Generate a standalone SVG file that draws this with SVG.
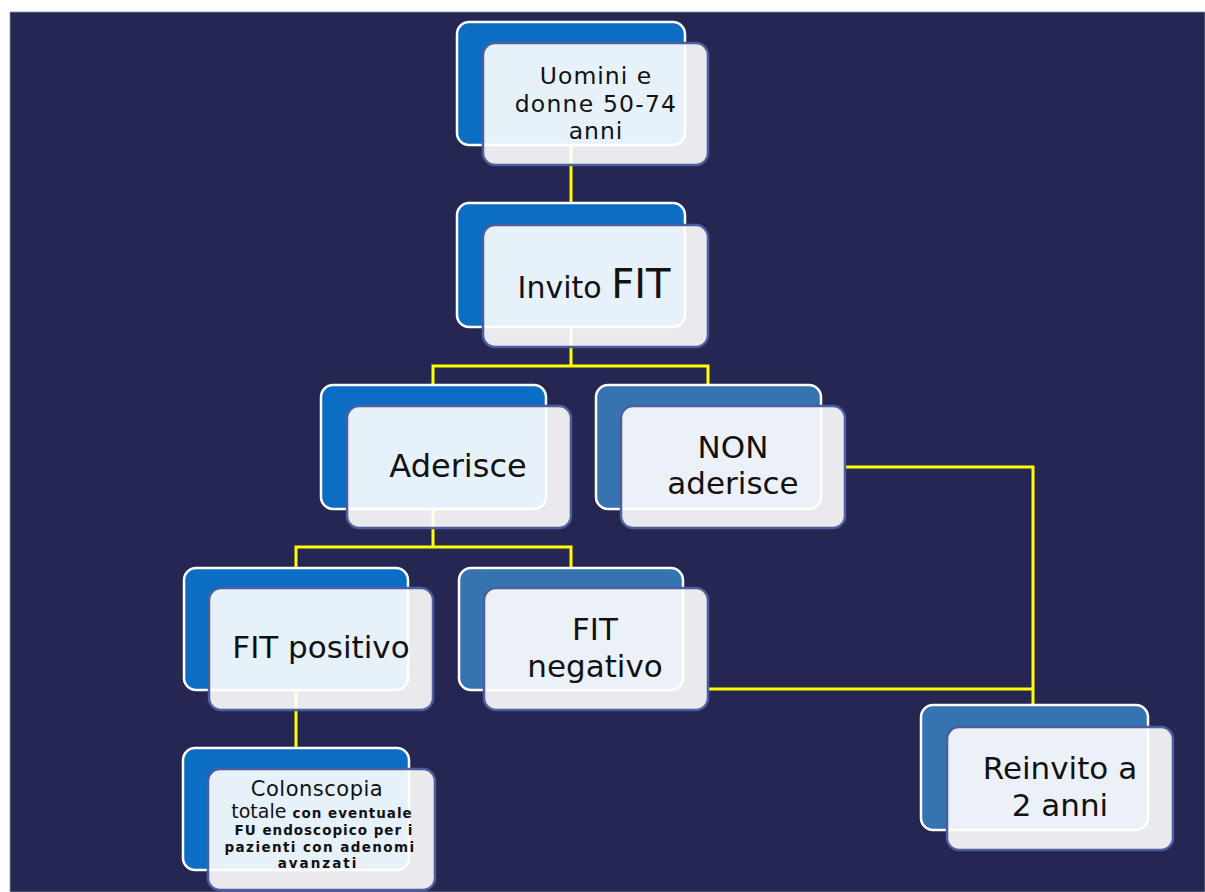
<svg xmlns="http://www.w3.org/2000/svg" width="1205" height="892" viewBox="0 0 1205 892">
<style>
.back1{fill:#0b6dc3;stroke:#ffffff;stroke-width:2.5}
.back2{fill:#3573b1;stroke:#ffffff;stroke-width:2.5}
.front{fill:#ffffff;fill-opacity:0.9;stroke:#4d5e9e;stroke-width:2.5}
.conn{fill:none;stroke:#ffff00;stroke-width:3}
text{font-family:"DejaVu Sans","Liberation Sans",sans-serif;fill:#111111;text-anchor:middle}
.sm{font-family:"DejaVu Sans","Liberation Sans",sans-serif;font-weight:bold;font-size:13.5px}
</style>
<rect x="0" y="0" width="1205" height="892" fill="#ffffff"/>
<rect x="10" y="12" width="1195" height="880" fill="#252752" stroke="#8a94a8" stroke-width="0.8"/>
<g id="connectors">
<path class="conn" d="M571,145 V203"/>
<path class="conn" d="M571,327 V366 M433,385 V366 H708 V385"/>
<path class="conn" d="M433,508 V547 M296,568 V547 H571 V568"/>
<path class="conn" d="M296,690 V748"/>
<path class="conn" d="M845,467 H1033 V705 M708,689 H1033"/>
</g>
<g id="n-uomini">
<rect class="back1" x="457" y="22" width="228" height="123" rx="12"/>
<rect class="front" x="483" y="43" width="225" height="122" rx="12"/>
<text x="596" y="84" font-size="23.5" letter-spacing="1">Uomini e</text>
<text x="596" y="112" font-size="23.5" letter-spacing="1.2">donne 50-74</text>
<text x="596" y="139" font-size="23.5" letter-spacing="1">anni</text>
</g>
<g id="n-invito">
<rect class="back1" x="457" y="203" width="228" height="124" rx="12"/>
<rect class="front" x="483" y="225" width="225" height="122" rx="12"/>
<text x="594" y="298"><tspan font-size="30">Invito </tspan><tspan font-size="40">FIT</tspan></text>
</g>
<g id="n-aderisce">
<rect class="back1" x="321" y="385" width="225" height="124" rx="12"/>
<rect class="front" x="347" y="406" width="224" height="122" rx="12"/>
<text x="458" y="477" font-size="32">Aderisce</text>
</g>
<g id="n-non">
<rect class="back2" x="596" y="385" width="225" height="124" rx="12"/>
<rect class="front" x="621" y="406" width="224" height="122" rx="12"/>
<text x="733" y="458" font-size="31">NON</text>
<text x="733" y="494" font-size="31">aderisce</text>
</g>
<g id="n-fitpos">
<rect class="back1" x="184" y="568" width="224" height="122" rx="12"/>
<rect class="front" x="209" y="588" width="224" height="122" rx="12"/>
<text x="321" y="658" font-size="31">FIT positivo</text>
</g>
<g id="n-fitneg">
<rect class="back2" x="459" y="568" width="224" height="122" rx="12"/>
<rect class="front" x="484" y="588" width="224" height="122" rx="12"/>
<text x="595" y="640" font-size="31">FIT</text>
<text x="595" y="677" font-size="31">negativo</text>
</g>
<g id="n-colonscopia">
<rect class="back1" x="183" y="748" width="226" height="122" rx="12"/>
<rect class="front" x="208" y="769" width="227" height="121" rx="12"/>
<text x="317" y="796" font-size="21" letter-spacing="0.5">Colonscopia</text>
<text x="322" y="818"><tspan font-size="19">totale </tspan><tspan class="sm" letter-spacing="1">con eventuale</tspan></text>
<text x="324" y="835" class="sm" letter-spacing="1">FU endoscopico per i</text>
<text x="320" y="852" class="sm" letter-spacing="1.4">pazienti con adenomi</text>
<text x="318" y="868" class="sm" letter-spacing="2">avanzati</text>
</g>
<g id="n-reinvito">
<rect class="back2" x="921" y="705" width="227" height="125" rx="12"/>
<rect class="front" x="947" y="727" width="226" height="123" rx="12"/>
<text x="1060" y="779" font-size="31">Reinvito a</text>
<text x="1060" y="816" font-size="31">2 anni</text>
</g>
</svg>
